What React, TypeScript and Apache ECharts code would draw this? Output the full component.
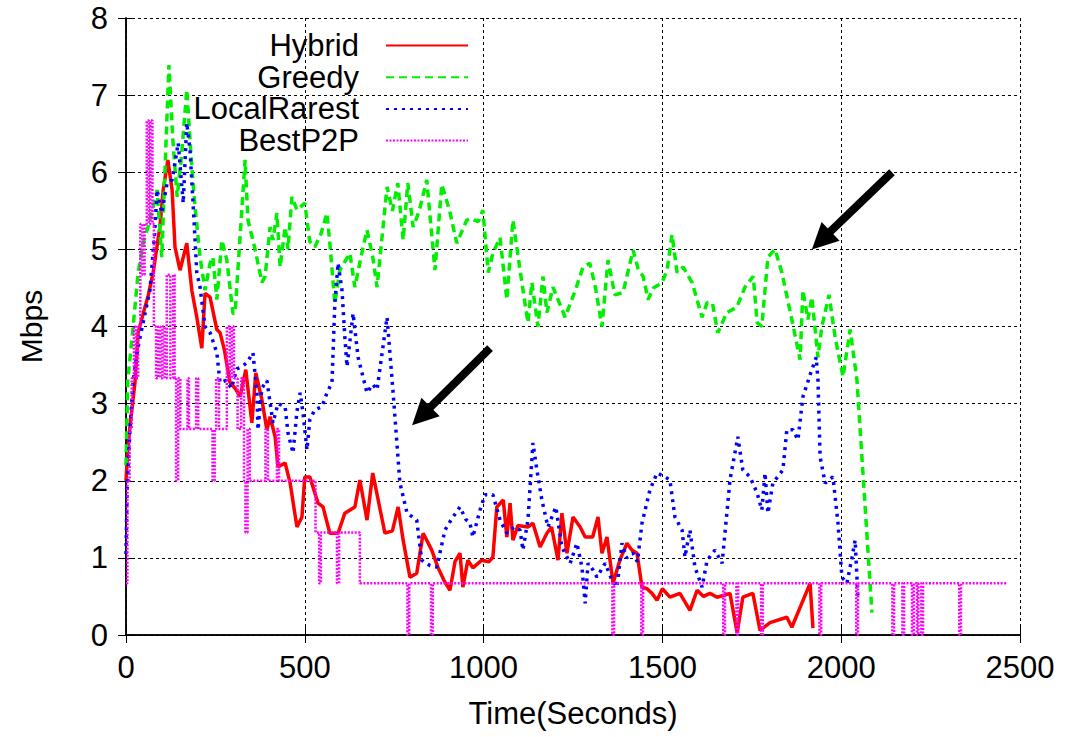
import React, { useEffect, useRef } from "react";
import * as echarts from "echarts";

const seriesNames = ["Hybrid", "Greedy", "LocalRarest", "BestP2P"];
const xTicks = [0, 500, 1000, 1500, 2000, 2500];
const yTicks = [0, 1, 2, 3, 4, 5, 6, 7, 8];

const hybrid: [number, number][] = [
  [0, 2.0], [5, 2.4], [11, 2.7], [25, 3.27], [34, 3.92], [50, 4.2], [62, 4.4], [76, 4.7], [95, 5.3], [104, 5.77],
  [117, 6.16], [129, 5.77], [137, 5.03], [151, 4.73], [170, 5.08], [184, 4.47], [198, 4.12], [212, 3.72], [221, 4.43],
  [235, 4.38], [254, 3.96], [263, 3.92], [275, 3.7], [291, 3.27], [305, 3.2], [319, 3.09], [335, 3.44], [352, 2.75],
  [363, 3.4], [380, 3.05], [394, 2.66], [403, 2.83], [417, 2.57], [425, 2.18], [445, 2.23], [459, 1.97], [478, 1.4],
  [492, 1.53], [500, 2.05], [514, 2.05], [537, 1.71], [551, 1.66], [570, 1.32], [593, 1.32], [612, 1.58], [640, 1.66],
  [654, 2.01], [674, 1.49], [690, 2.1], [724, 1.32], [745, 1.35], [761, 1.66], [775, 1.23], [794, 0.75], [813, 0.8],
  [831, 1.32], [855, 1.1], [872, 0.88], [890, 0.7], [906, 0.58], [920, 0.95], [934, 1.06], [942, 0.62], [956, 0.97],
  [970, 0.87], [995, 0.97], [1015, 0.95], [1026, 1.01], [1037, 1.66], [1055, 1.75], [1065, 1.27], [1074, 1.71],
  [1082, 1.23], [1096, 1.42], [1124, 1.4], [1138, 1.45], [1158, 1.14], [1177, 1.32], [1190, 1.4], [1208, 0.97],
  [1219, 1.58], [1233, 1.06], [1250, 1.53], [1270, 1.4], [1284, 1.27], [1305, 1.27], [1320, 1.53], [1331, 1.06],
  [1345, 1.27], [1362, 0.67], [1381, 0.97], [1401, 1.19], [1415, 1.1], [1429, 1.06], [1443, 0.62], [1457, 0.6],
  [1471, 0.54], [1485, 0.45], [1500, 0.6], [1521, 0.49], [1549, 0.54], [1577, 0.32], [1597, 0.58], [1615, 0.5],
  [1633, 0.54], [1653, 0.49], [1689, 0.54], [1709, 0.03], [1725, 0.49], [1753, 0.54], [1773, 0.06], [1801, 0.16],
  [1848, 0.23], [1862, 0.1], [1913, 0.67], [1921, 0.09],
];

const greedy: [number, number][] = [
  [0, 2.2], [5, 3.3], [20, 4.0], [34, 4.7], [48, 5.08], [62, 5.3], [76, 5.55], [87, 5.77], [100, 4.9], [120, 7.39],
  [131, 6.42], [143, 5.68], [155, 6.2], [170, 7.07], [184, 6.07], [193, 5.55], [207, 4.9], [221, 4.47], [235, 4.82],
  [243, 4.9], [254, 4.35], [268, 5.12], [282, 4.86], [299, 4.17], [305, 4.17], [333, 6.16], [341, 5.38], [361, 5.0],
  [380, 4.57], [389, 4.65], [403, 5.29], [411, 5.12], [422, 5.47], [431, 4.77], [445, 5.29], [453, 5.0], [464, 5.68],
  [478, 5.51], [500, 5.6], [514, 5.1], [528, 5.03], [545, 5.2], [562, 5.47], [570, 5.08], [584, 4.3], [598, 4.73],
  [626, 4.95], [640, 4.51], [663, 5.03], [674, 5.25], [690, 4.9], [702, 4.51], [730, 5.81], [745, 5.5], [760, 5.86],
  [775, 5.12], [788, 5.86], [803, 5.29], [820, 5.5], [841, 5.9], [864, 4.73], [883, 5.84], [905, 5.5], [925, 5.08],
  [953, 5.38], [962, 5.4], [985, 5.36], [998, 5.51], [1013, 4.7], [1026, 4.95], [1046, 5.15], [1065, 4.35], [1082, 5.38],
  [1107, 4.57], [1124, 4.05], [1135, 4.57], [1152, 4.0], [1166, 4.65], [1177, 4.18], [1194, 4.51], [1228, 4.12],
  [1255, 4.45], [1278, 4.77], [1297, 4.82], [1313, 4.5], [1331, 4.0], [1348, 4.86], [1367, 4.41], [1390, 4.44],
  [1418, 4.99], [1432, 4.75], [1446, 4.65], [1460, 4.35], [1475, 4.5], [1499, 4.57], [1513, 4.73], [1527, 5.19],
  [1541, 4.7], [1558, 4.77], [1583, 4.57], [1611, 4.12], [1625, 4.31], [1640, 4.3], [1655, 3.92], [1680, 4.18],
  [1708, 4.25], [1731, 4.51], [1754, 4.65], [1765, 4.05], [1778, 4.0], [1795, 4.9], [1815, 5.0], [1834, 4.7],
  [1862, 4.09], [1885, 3.57], [1893, 4.47], [1907, 4.09], [1918, 4.38], [1935, 3.6], [1946, 4.0], [1966, 4.41],
  [1983, 3.86], [2005, 3.35], [2025, 3.96], [2044, 3.31], [2086, 0.29],
];

const localRarest: [number, number][] = [
  [0, 1.05], [3, 1.88], [11, 2.66], [20, 3.3], [34, 3.74], [50, 4.1], [67, 4.47], [80, 5.2], [87, 5.77], [100, 5.47],
  [115, 5.86], [129, 5.9], [146, 6.38], [160, 5.6], [170, 6.64], [179, 6.29], [187, 5.64], [198, 4.7], [207, 4.51],
  [221, 4.0], [235, 3.92], [254, 3.66], [263, 3.27], [280, 3.3], [295, 3.2], [310, 3.45], [324, 3.48], [338, 3.53],
  [355, 3.66], [366, 3.14], [369, 2.66], [380, 3.2], [394, 3.3], [411, 2.75], [425, 3.0], [445, 2.96], [453, 2.62],
  [467, 2.36], [478, 2.9], [487, 3.14], [495, 2.88], [506, 2.4], [514, 2.79], [528, 2.92], [548, 2.96], [562, 3.14],
  [576, 3.27], [584, 4.3], [593, 4.82], [604, 4.47], [612, 3.86], [618, 3.48], [635, 4.17], [649, 3.6], [674, 3.14],
  [690, 3.25], [702, 3.18], [730, 4.12], [747, 3.14], [766, 1.97], [786, 1.58], [813, 1.49], [827, 0.97], [850, 0.9],
  [869, 0.88], [892, 1.36], [910, 1.5], [934, 1.66], [950, 1.5], [962, 1.45], [970, 1.27], [990, 1.62], [1004, 1.82],
  [1026, 1.82], [1046, 1.49], [1065, 1.32], [1085, 1.4], [1102, 1.36], [1110, 1.1], [1124, 1.49], [1138, 2.49],
  [1149, 2.14], [1163, 1.75], [1180, 1.4], [1202, 1.66], [1219, 1.14], [1242, 0.93], [1261, 1.19], [1275, 0.88],
  [1284, 0.41], [1292, 0.93], [1305, 0.85], [1317, 0.75], [1340, 0.93], [1359, 0.71], [1373, 0.62], [1387, 1.19],
  [1400, 1.0], [1418, 1.06], [1430, 0.95], [1443, 1.45], [1465, 1.88], [1485, 2.1], [1507, 2.05], [1521, 2.01],
  [1535, 1.53], [1555, 1.36], [1563, 1.01], [1577, 1.36], [1591, 0.88], [1611, 0.62], [1625, 0.97], [1647, 1.1],
  [1667, 0.93], [1689, 2.01], [1711, 2.57], [1725, 2.14], [1745, 2.05], [1765, 1.84], [1778, 1.62], [1787, 2.1],
  [1795, 1.58], [1809, 1.97], [1837, 2.14], [1848, 2.66], [1865, 2.66], [1879, 2.53], [1893, 3.09], [1915, 3.4],
  [1930, 3.6], [1935, 3.31], [1941, 2.31], [1955, 1.97], [1977, 2.05], [1991, 1.45], [2002, 0.75], [2016, 0.67],
  [2030, 1.0], [2039, 1.23], [2047, 0.45],
];

const bestP2P: [number, number][] = [
  [0, 0.67], [4, 2.0], [10, 2.67], [16, 3.33], [22, 4.0], [28, 3.33], [34, 4.0], [40, 5.33], [46, 4.67], [52, 5.33],
  [58, 6.67], [64, 5.33], [68, 6.67], [74, 5.33], [78, 4.0], [84, 3.33], [90, 4.0], [96, 3.33], [102, 4.0], [108, 3.33],
  [114, 4.67], [124, 3.33], [132, 4.67], [136, 3.33], [140, 2.0], [146, 3.33], [152, 2.67], [172, 3.33], [176, 2.67],
  [196, 3.33], [202, 2.67], [242, 2.0], [248, 2.67], [252, 3.33], [260, 2.67], [282, 4.0], [290, 3.33], [296, 4.0],
  [302, 3.33], [312, 2.67], [322, 3.33], [330, 2.0], [334, 1.33], [340, 2.67], [346, 2.0], [390, 2.67], [397, 2.0],
  [422, 2.67], [428, 2.0], [530, 1.33], [540, 0.67], [545, 1.33], [590, 0.67], [596, 1.33], [654, 0.67], [787, 0],
  [792, 0.67], [853, 0], [858, 0.67], [1360, 0], [1365, 0.67], [1441, 0], [1446, 0.67], [1670, 0], [1675, 0.67],
  [1707, 0], [1712, 0.67], [1776, 0], [1781, 0.67], [1939, 0], [1944, 0.67], [2042, 0], [2047, 0.67], [2143, 0],
  [2148, 0.67], [2171, 0], [2176, 0.67], [2198, 0], [2203, 0.67], [2212, 0], [2216, 0.67], [2224, 0], [2229, 0.67],
  [2330, 0], [2335, 0.67], [2463, 0.67],
];

const arrows = [
  { from: [1018, 3.72], to: [800, 2.72] },
  { from: [2142, 6.0], to: [1918, 5.0] },
];

const FONT = "'Liberation Sans', Arial, Helvetica, sans-serif";

export default function App() {
  const ref = useRef<HTMLDivElement>(null);

  useEffect(() => {
    if (!ref.current) return;
    const chart = echarts.init(ref.current, undefined, { renderer: "svg" });

    const axisCommon = {
      axisLine: { show: true, lineStyle: { color: "#000", width: 1.5 } },
      axisTick: { show: true, inside: true, length: 8, lineStyle: { color: "#000", width: 1 } },
      splitLine: { show: false },
    };

    const option: any = {
      animation: false,
      backgroundColor: "#fff",
      textStyle: { fontFamily: FONT },
      grid: { left: 126, right: 45, top: 18, bottom: 102, containLabel: false },
      legend: {
        orient: "vertical",
        right: 591,
        top: 25,
        align: "right",
        itemWidth: 82,
        itemHeight: 14,
        itemGap: 0.7,
        data: seriesNames,
        itemStyle: { opacity: 0 },
        textStyle: { fontSize: 31, color: "#000", fontFamily: FONT, lineHeight: 31, padding: [0, 22, 0, 0] },
        selectedMode: false,
      },
      xAxis: [
        {
          type: "value",
          min: 0,
          max: 2500,
          interval: 500,
          position: "bottom",
          ...axisCommon,
          axisLabel: {
            fontSize: 31,
            color: "#000",
            margin: 17,
            fontFamily: FONT,
            customValues: xTicks,
            formatter: (v: number) => String(v),
          },
          splitLine: { show: true, lineStyle: { color: "#000", width: 1, type: [3, 3] } },
          name: "Time(Seconds)",
          nameLocation: "middle",
          nameGap: 63,
          nameTextStyle: { fontSize: 31, color: "#000", fontFamily: FONT },
        },
        {
          type: "value",
          min: 0,
          max: 2500,
          interval: 500,
          position: "top",
          ...axisCommon,
          axisLabel: { show: false },
        },
      ],
      yAxis: [
        {
          type: "value",
          min: 0,
          max: 8,
          interval: 1,
          position: "left",
          ...axisCommon,
          axisLabel: {
            fontSize: 31,
            color: "#000",
            margin: 18,
            fontFamily: FONT,
            customValues: yTicks,
            formatter: (v: number) => String(v),
          },
          splitLine: { show: true, lineStyle: { color: "#000", width: 1, type: [3, 3] } },
          name: "Mbps",
          nameLocation: "middle",
          nameGap: 80,
          nameRotate: 90,
          nameTextStyle: { fontSize: 30, color: "#000", fontFamily: FONT },
        },
        {
          type: "value",
          min: 0,
          max: 8,
          interval: 1,
          position: "right",
          ...axisCommon,
          axisLabel: { show: false },
        },
      ],
      series: [
        {
          name: "Hybrid",
          type: "line",
          data: hybrid,
          symbol: "none",
          color: "#ff0000",
          lineStyle: { color: "#ff0000", width: 3.5, type: "solid" },
        },
        {
          name: "Greedy",
          type: "line",
          data: greedy,
          symbol: "none",
          color: "#00ee00",
          lineStyle: { color: "#00ee00", width: 3.5, type: [8, 5] },
        },
        {
          name: "LocalRarest",
          type: "line",
          data: localRarest,
          symbol: "none",
          color: "#0000ff",
          lineStyle: { color: "#0000ff", width: 3.5, type: [3, 5] },
        },
        {
          name: "BestP2P",
          type: "line",
          data: bestP2P,
          step: "end",
          symbol: "none",
          color: "#ff00ff",
          lineStyle: { color: "#ff00ff", width: 2.5, type: [2, 1.5] },
        },
      ],
    };

    chart.setOption(option);

    const graphics: any[] = [];
    arrows.forEach((a) => {
      const p = chart.convertToPixel({ gridIndex: 0 }, a.to) as number[];
      const q = chart.convertToPixel({ gridIndex: 0 }, a.from) as number[];
      const dx = p[0] - q[0];
      const dy = p[1] - q[1];
      const len = Math.sqrt(dx * dx + dy * dy);
      const ux = dx / len;
      const uy = dy / len;
      const nx = -uy;
      const ny = ux;
      const L = 26;
      const W = 13;
      const bx = p[0] - ux * L;
      const by = p[1] - uy * L;
      graphics.push({
        type: "line",
        shape: { x1: q[0], y1: q[1], x2: bx + ux * 2, y2: by + uy * 2 },
        style: { stroke: "#000", lineWidth: 8 },
        z: 100,
      });
      graphics.push({
        type: "polygon",
        shape: { points: [[p[0], p[1]], [bx + nx * W, by + ny * W], [bx - nx * W, by - ny * W]] },
        style: { fill: "#000" },
        z: 100,
      });
    });
    chart.setOption({ graphic: graphics });

    return () => chart.dispose();
  }, []);

  return (
    <div
      ref={ref}
      style={{ position: "fixed", left: 0, top: 0, width: 1065, height: 737, background: "#fff" }}
    />
  );
}
